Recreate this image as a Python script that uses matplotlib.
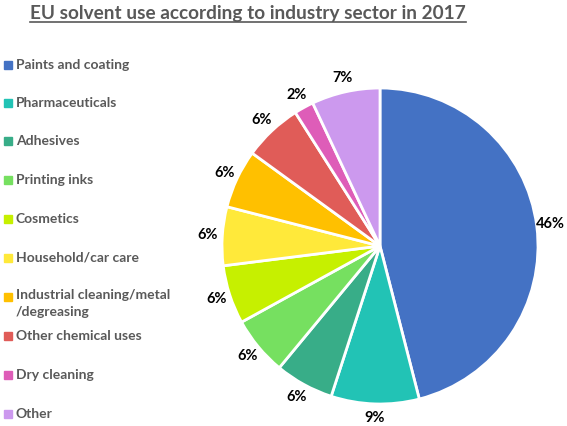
import matplotlib
matplotlib.use("Agg")
import matplotlib.pyplot as plt
from matplotlib.patches import Rectangle
from matplotlib.lines import Line2D

categories = ["Paints and coating", "Pharmaceuticals", "Adhesives", "Printing inks",
              "Cosmetics", "Household/car care", "Industrial cleaning/metal\n/degreasing",
              "Other chemical uses", "Dry cleaning", "Other"]
shares = [46, 9, 6, 6, 6, 6, 6, 6, 2, 7]
colors = ["#4472C4", "#22C3B5", "#38AD88", "#76E060", "#C6F000",
          "#FFE93A", "#FFC000", "#E05C58", "#DE5DB8", "#CC99EE"]

plt.rcParams["font.family"] = ["Lato", "DejaVu Sans"]
W, H = 567, 426
fig = plt.figure(figsize=(W / 100, H / 100), dpi=100)

# pie axes: 400x400 px centred on the pie centre
cx, cy, r = 380, 246, 158
ax = fig.add_axes([(cx - 200) / W, (H - cy - 200) / H, 400 / W, 400 / H])
ax.pie(shares, colors=colors, startangle=90, counterclock=False, radius=r / 200,
       autopct="%d%%", pctdistance=1.09,
       wedgeprops=dict(edgecolor="white", linewidth=2),
       textprops=dict(fontsize=10.5, fontweight="bold", color="black"))
ax.set_xlim(-1, 1)
ax.set_ylim(-1, 1)
ax.set_aspect("equal")
ax.axis("off")

# title with underline
title = fig.text(248 / W, 1 - 14 / H, "EU solvent use according to industry sector in 2017",
                 ha="center", va="center", fontsize=13.7, fontweight="bold", color="#595959")
fig.canvas.draw()
bb = title.get_window_extent().transformed(fig.transFigure.inverted())
fig.add_artist(Line2D([bb.x0, bb.x1], [bb.y0 + 0.002, bb.y0 + 0.002],
                      transform=fig.transFigure, color="#595959", linewidth=1.2))

# legend
ys = [65, 103, 141, 180, 219, 258, 297, 336, 375, 414]
for lab, col, y in zip(categories, colors, ys):
    fig.add_artist(Rectangle((4 / W, 1 - (y + 4) / H), 8 / W, 8 / H,
                             transform=fig.transFigure, color=col))
    if "\n" in lab:
        fig.text(16 / W, 1 - (y - 8) / H, lab, ha="left", va="top",
                 fontsize=10, fontweight="bold", color="#595959", linespacing=1.5)
    else:
        fig.text(16 / W, 1 - y / H, lab, ha="left", va="center",
                 fontsize=10, fontweight="bold", color="#595959")

fig.savefig("out.png", dpi=100)
